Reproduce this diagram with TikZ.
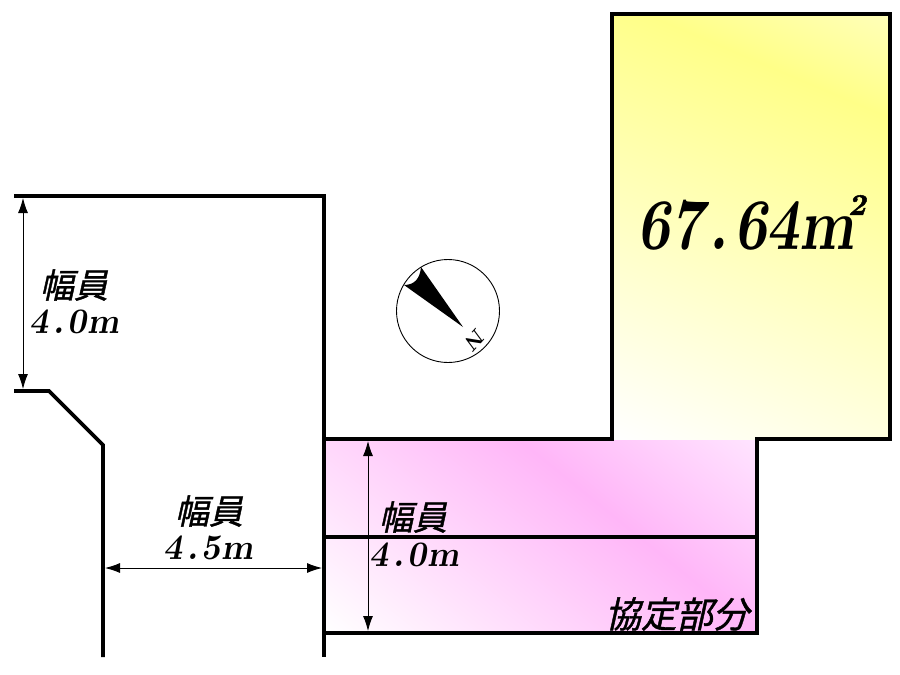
\documentclass[tikz,border=0pt]{standalone}
\usepackage{fontspec}
\usetikzlibrary{arrows.meta}
\newfontfamily\cjkfont[FakeSlant=0.22,FakeBold=1.2]{Noto Sans CJK JP}
\newfontfamily\numfont[Extension=.otf,FakeSlant=0.2]{lmroman10-bold}
\newfontfamily\squarefont[Extension=.otf,FakeSlant=0.2,FakeBold=1.5]{lmroman10-bold}
\newcommand{\gapdot}{\kern6pt.\kern4pt}
\definecolor{plotpink}{HTML}{FFB6F8}
\definecolor{plotpale}{HTML}{FFE4FF}
\definecolor{plotyellow}{HTML}{FFFF88}
\definecolor{plotcream}{HTML}{FFFFB8}
\pgfdeclarehorizontalshading{plotband}{100bp}{color(0bp)=(white); color(26bp)=(white); color(57bp)=(plotpink); color(74bp)=(plotpale); color(100bp)=(plotpale)}
\pgfdeclarehorizontalshading{yardband}{100bp}{color(0bp)=(white); color(26bp)=(white); color(65bp)=(plotyellow); color(74bp)=(plotcream); color(100bp)=(plotcream)}
\begin{document}
\begin{tikzpicture}[x=1pt,y=-1pt,
  wall/.style={draw=black,line width=3.6pt,line join=miter},
  dim/.style={draw=black,line width=0.9pt,{Latex[length=15pt,width=10pt]}-{Latex[length=15pt,width=10pt]}},
  kanji/.style={font=\cjkfont\fontsize{34}{34}\selectfont,inner sep=0pt},
  width label/.style={font=\numfont\fontsize{36}{36}\selectfont,xscale=0.92,inner sep=0pt}]
  \useasboundingbox (0,0) rectangle (900,675);

  % fills
  \begin{scope}
    \clip (612,14) rectangle (890,440);
    \shade[shading=yardband,shading angle=67] (491,-33) rectangle (1011,487);
  \end{scope}
  \begin{scope}
    \clip (326,440) rectangle (757,633);
    \shade[shading=plotband,shading angle=51] (322,317) rectangle (762,757);
  \end{scope}

  % outlines
  \draw[wall] (326,439) -- (612,439) -- (612,14) -- (890,14) -- (890,439) -- (757,439) -- (757,633) -- (326,633);
  \draw[wall] (326,537) -- (757,537);
  \draw[wall] (14,196) -- (324,196) -- (324,657);
  \draw[wall] (14,391) -- (49,391) -- (103,445) -- (103,657);

  % compass
  \node[circle,draw=black,line width=0.9pt,minimum size=103pt,inner sep=0pt] (compass) at (448,311) {};
  \fill (463,327) -- (404,285) .. controls (415,285) and (420,278) .. (421,267) -- cycle;
  \node[font=\numfont\fontsize{21}{21}\selectfont,rotate=-132,inner sep=0pt] (north) at (476,339) {N};

  % widths
  \coordinate (a1) at (23,198);
  \coordinate (a2) at (23,389);
  \coordinate (b1) at (105,568);
  \coordinate (b2) at (322,568);
  \coordinate (c1) at (368,441);
  \coordinate (c2) at (368,631);
  \draw[dim] (a1) -- (a2);
  \draw[dim] (b1) -- (b2);
  \draw[dim] (c1) -- (c2);

  \node[kanji] (left top) at (74,285) {幅員};
  \node[width label] (left num) at (74,322) {4\gapdot 0m};
  \node[kanji] (mid top) at (209,511) {幅員};
  \node[width label] (mid num) at (208,548) {4\gapdot 5m};
  \node[kanji] (right top) at (413,517) {幅員};
  \node[width label] (right num) at (414,555) {4\gapdot 0m};
  \node[kanji,font=\cjkfont\fontsize{36}{36}\selectfont] (pact) at (677,614) {協定部分};
  \node[font=\numfont\fontsize{73}{73}\selectfont,xscale=0.78,inner sep=0pt] (area) at (746,225) {67\kern8pt.\kern8pt64m};
  \node[font=\squarefont\fontsize{30}{30}\selectfont,inner sep=0pt] (square) at (857,205) {2};
\end{tikzpicture}
\end{document}
